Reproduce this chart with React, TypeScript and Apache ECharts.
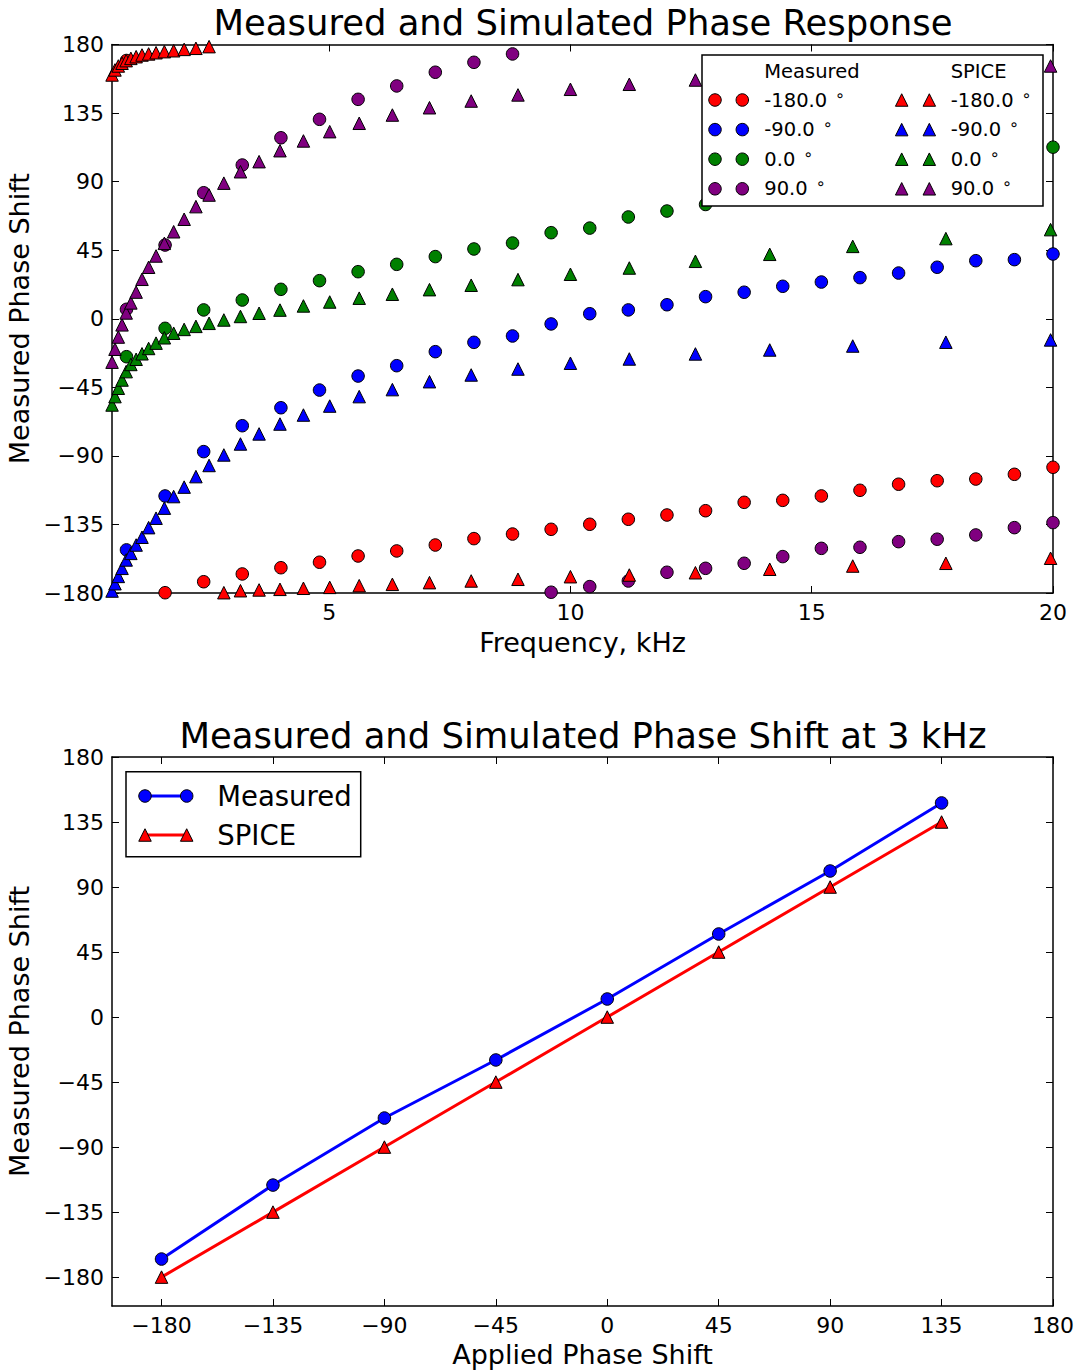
import React, { useEffect, useRef } from 'react';
import * as echarts from 'echarts';

// ---- Phase response vs frequency ----
const measuredFreqKHz = [0.8, 1.6, 2.4, 3.2, 4.0, 4.8, 5.6, 6.4, 7.2, 8.0, 8.8, 9.6, 10.4, 11.2, 12.0, 12.8, 13.6, 14.4, 15.2, 16.0, 16.8, 17.6, 18.4, 19.2, 20.0];

const measuredM180 = [169.5, -179.8, -172.6, -167.5, -163.4, -159.8, -155.7, -152.4, -148.5, -144.3, -141.3, -138.2, -134.9, -131.6, -128.8, -126, -120.5, -119.2, -116.3, -112.6, -108.6, -106.3, -105.2, -102.1, -97.5];
const measuredM90 = [-151.7, -116.3, -87.2, -70.2, -58.4, -46.8, -37.6, -30.8, -21.6, -15.5, -11.3, -3.4, 3.3, 5.8, 9.2, 14.5, 17.4, 21.3, 24.1, 27, 30, 33.8, 38.1, 38.8, 42.5];
const measured0 = [-24.9, -6.3, 5.8, 12.3, 19.3, 25, 30.9, 35.7, 40.8, 45.8, 49.7, 56.5, 59.5, 66.8, 70.7, 75, 79, 83.5, 88, 92, 96, 100, 104, 108, 112.6];
const measured90 = [6.2, 48.4, 82.7, 100.9, 118.8, 130.9, 144, 152.8, 161.8, 168.3, 173.8, -179.5, -175.8, -172.1, -166.4, -163.8, -160.5, -156.1, -150.7, -150, -146.3, -144.7, -141.9, -137.1, -133.8];

const spiceFreqKHz = [0.501, 0.562, 0.631, 0.708, 0.794, 0.891, 1.0, 1.122, 1.259, 1.413, 1.585, 1.778, 1.995, 2.239, 2.512, 2.818, 3.162, 3.548, 3.981, 4.467, 5.012, 5.623, 6.31, 7.079, 7.943, 8.913, 10.0, 11.22, 12.59, 14.13, 15.85, 17.78, 19.95];

const spiceM180 = [160, 163.3, 165.9, 167.7, 169.4, 170.9, 172, 173.1, 173.8, 174.6, 175.3, 175.9, 176.8, 177.5, 178.6, -179.8, -178.5, -178, -177.6, -176.9, -176.3, -175.2, -174.3, -173.2, -172.1, -171, -169.3, -168.2, -166.7, -164.4, -162.3, -160.5, -157.2];
const spiceM90 = [-178.7, -173.9, -169.1, -163.8, -158.3, -154, -148.5, -143.4, -137.1, -130.9, -124.3, -116.7, -110.5, -103.6, -96.3, -89.4, -82.2, -75.6, -69.1, -63.2, -57.3, -51.1, -46.5, -41.3, -36.9, -33, -29.2, -26.4, -23.1, -20.5, -17.9, -15.4, -13.9];
const spice0 = [-56.6, -51.1, -45.6, -40.2, -34.7, -30, -26.6, -23, -19.5, -16, -12.5, -9.5, -7, -5, -3, -0.8, 1.5, 3.6, 5.7, 8.4, 11, 13.5, 16.1, 19.1, 22, 25.7, 29.2, 33.3, 37.7, 42.3, 47.5, 52.6, 58.5];
const spice90 = [-28.5, -20, -12, -4, 3.8, 10.4, 17.5, 25.9, 33.8, 41.2, 49.5, 57.1, 65.3, 73.6, 81.2, 89, 96.5, 103.1, 110.3, 116.7, 122.8, 128.3, 133.7, 138.5, 142.9, 146.9, 150.6, 153.9, 156.7, 159.3, 161.7, 163.8, 165.9];

const appliedPhases = [-180, -90, 0, 90];
const phaseColors = ['#ff0000', '#0000ff', '#008000', '#800080'];
const measuredSets = [measuredM180, measuredM90, measured0, measured90];
const spiceSets = [spiceM180, spiceM90, spice0, spice90];

// ---- Phase shift at 3 kHz ----
const appliedShift = [-180, -135, -90, -45, 0, 45, 90, 135];
const measuredAt3k = [-167.5, -116.3, -69.9, -29.7, 12.5, 57.5, 101.1, 148.2];
const spiceAt3k = [-180, -135, -90, -45, 0, 45, 90, 135];

// tick positions
const freqTicks = [5, 10, 15, 20];
const phaseTicks = [-180, -135, -90, -45, 0, 45, 90, 135, 180];

const FONT = 'DejaVu Sans';
const MARK = 12.5;

const fmt = (v: number) => String(v).replace('-', '\u2212');

let measureCtx: CanvasRenderingContext2D | null = null;
function textWidth(text: string, font: string) {
  if (!measureCtx) measureCtx = document.createElement('canvas').getContext('2d');
  if (!measureCtx) return text.length * 10;
  measureCtx.font = font;
  return measureCtx.measureText(text).width;
}

function frameAxis(
  gridIndex: number,
  position: string,
  min: number,
  max: number,
  ticks: number[],
  labels: boolean,
  name = '',
  nameGap = 0
) {
  return {
    type: 'value',
    gridIndex,
    position,
    min,
    max,
    name,
    nameLocation: 'middle',
    nameGap,
    nameTextStyle: { fontFamily: FONT, fontSize: 27, color: '#000' },
    splitLine: { show: false },
    axisLine: { show: true, onZero: false, lineStyle: { color: '#000', width: 1.5 } },
    axisTick: {
      show: true,
      inside: true,
      length: 7,
      customValues: ticks,
      lineStyle: { color: '#000', width: 1 },
    },
    axisLabel: {
      show: labels,
      customValues: ticks,
      formatter: fmt,
      fontFamily: FONT,
      fontSize: 22,
      color: '#000',
      margin: 8,
    },
  };
}

function trianglePts(x: number, y: number, s: number) {
  const h = s / 2;
  return [
    [x, y - h],
    [x - h, y + h],
    [x + h, y + h],
  ];
}

function buildGraphics() {
  const els: any[] = [];
  const Z = 100;
  const tf = `35.4px "${FONT}"`;
  // titles
  els.push({
    type: 'text',
    x: 583,
    y: 22,
    z: Z,
    style: { text: 'Measured and Simulated Phase Response', font: tf, fill: '#000', align: 'center', verticalAlign: 'middle' },
  });
  els.push({
    type: 'text',
    x: 583,
    y: 735,
    z: Z,
    style: { text: 'Measured and Simulated Phase Shift at 3 kHz', font: tf, fill: '#000', align: 'center', verticalAlign: 'middle' },
  });

  // legend of the frequency plot
  els.push({
    type: 'rect',
    z: Z,
    shape: { x: 702, y: 55, width: 341, height: 151 },
    style: { fill: '#fff', stroke: '#000', lineWidth: 1.5 },
  });
  const lf = `19.5px "${FONT}"`;
  els.push({ type: 'text', z: Z + 1, x: 764.3, y: 71.7, style: { text: 'Measured', font: lf, fill: '#000', verticalAlign: 'middle' } });
  els.push({ type: 'text', z: Z + 1, x: 950.7, y: 71.7, style: { text: 'SPICE', font: lf, fill: '#000', verticalAlign: 'middle' } });
  appliedPhases.forEach((p, i) => {
    const y = 100 + i * 29.6;
    const c = phaseColors[i];
    const label = p.toFixed(1);
    [715, 742.3].forEach((cx) =>
      els.push({ type: 'circle', z: Z + 1, shape: { cx, cy: y, r: MARK / 2 }, style: { fill: c, stroke: '#000', lineWidth: 1 } })
    );
    [901.7, 929.3].forEach((cx) =>
      els.push({ type: 'polygon', z: Z + 1, shape: { points: trianglePts(cx, y, MARK) }, style: { fill: c, stroke: '#000', lineWidth: 1 } })
    );
    const w = textWidth(label + ' ', lf);
    [764.3, 950.7].forEach((x) => {
      els.push({
        type: 'text',
        z: Z + 1,
        x,
        y,
        style: { text: label, font: lf, fill: '#000', verticalAlign: 'middle' },
      });
      // superscript degree ring
      els.push({
        type: 'text',
        z: Z + 1,
        x: x + w + 1.5,
        y: y - 5,
        style: { text: '\u2218', font: `16px "${FONT}"`, fill: '#000', verticalAlign: 'middle' },
      });
    });
  });

  // legend of the 3 kHz plot
  els.push({
    type: 'rect',
    z: Z,
    shape: { x: 126, y: 771.7, width: 234.7, height: 85 },
    style: { fill: '#fff', stroke: '#000', lineWidth: 1.5 },
  });
  const bf = `27.5px "${FONT}"`;
  [
    { y: 796, color: '#0000ff', label: 'Measured', tri: false },
    { y: 835, color: '#ff0000', label: 'SPICE', tri: true },
  ].forEach((r) => {
    els.push({ type: 'line', z: Z + 1, shape: { x1: 145, y1: r.y, x2: 186.7, y2: r.y }, style: { stroke: r.color, lineWidth: 3 } });
    [145, 186.7].forEach((cx) =>
      els.push(
        r.tri
          ? { type: 'polygon', z: Z + 2, shape: { points: trianglePts(cx, r.y, MARK) }, style: { fill: r.color, stroke: '#000', lineWidth: 1 } }
          : { type: 'circle', z: Z + 2, shape: { cx, cy: r.y, r: MARK / 2 }, style: { fill: r.color, stroke: '#000', lineWidth: 1 } }
      )
    );
    els.push({ type: 'text', z: Z + 1, x: 217.3, y: r.y, style: { text: r.label, font: bf, fill: '#000', verticalAlign: 'middle' } });
  });
  return els;
}

function buildOption() {
  const series: any[] = [];
  appliedPhases.forEach((p, i) => {
    series.push({
      name: `Measured ${p.toFixed(1)}°`,
      type: 'scatter',
      xAxisIndex: 0,
      yAxisIndex: 0,
      symbol: 'circle',
      symbolSize: MARK,
      clip: true,
      z: 2,
      itemStyle: { color: phaseColors[i], borderColor: '#000', borderWidth: 1, opacity: 1 },
      data: measuredFreqKHz.map((f, k) => [f, measuredSets[i][k]]),
    });
  });
  appliedPhases.forEach((p, i) => {
    series.push({
      name: `SPICE ${p.toFixed(1)}°`,
      type: 'scatter',
      xAxisIndex: 0,
      yAxisIndex: 0,
      symbol: 'triangle',
      symbolSize: MARK,
      clip: true,
      z: 3,
      itemStyle: { color: phaseColors[i], borderColor: '#000', borderWidth: 1, opacity: 1 },
      data: spiceFreqKHz.map((f, k) => [f, spiceSets[i][k]]),
    });
  });
  series.push({
    name: 'Measured',
    type: 'line',
    xAxisIndex: 2,
    yAxisIndex: 2,
    symbol: 'circle',
    symbolSize: MARK,
    showAllSymbol: true,
    lineStyle: { color: '#0000ff', width: 3 },
    itemStyle: { color: '#0000ff', borderColor: '#000', borderWidth: 1 },
    data: appliedShift.map((a, k) => [a, measuredAt3k[k]]),
  });
  series.push({
    name: 'SPICE',
    type: 'line',
    xAxisIndex: 2,
    yAxisIndex: 2,
    symbol: 'triangle',
    symbolSize: MARK,
    showAllSymbol: true,
    lineStyle: { color: '#ff0000', width: 3 },
    itemStyle: { color: '#ff0000', borderColor: '#000', borderWidth: 1 },
    data: appliedShift.map((a, k) => [a, spiceAt3k[k]]),
  });

  return {
    animation: false,
    backgroundColor: '#fff',
    textStyle: { fontFamily: FONT },
    grid: [
      { left: 112, top: 44.5, width: 941, height: 548.5, outerBoundsMode: 'none', containLabel: false },
      { left: 112, top: 757, width: 941, height: 549, outerBoundsMode: 'none', containLabel: false },
    ],
    xAxis: [
      frameAxis(0, 'bottom', 0.5, 20, freqTicks, true, 'Frequency, kHz', 36),
      frameAxis(0, 'top', 0.5, 20, freqTicks, false),
      frameAxis(1, 'bottom', -200, 180, phaseTicks, true, 'Applied Phase Shift', 35),
      frameAxis(1, 'top', -200, 180, phaseTicks, false),
    ],
    yAxis: [
      frameAxis(0, 'left', -180, 180, phaseTicks, true, 'Measured Phase Shift', 72),
      frameAxis(0, 'right', -180, 180, phaseTicks, false),
      frameAxis(1, 'left', -200, 180, phaseTicks, true, 'Measured Phase Shift', 68),
      frameAxis(1, 'right', -200, 180, phaseTicks, false),
    ],
    series,
    graphic: buildGraphics(),
  };
}

export default function App() {
  const ref = useRef<HTMLDivElement>(null);
  useEffect(() => {
    document.body.style.margin = '0';
    const chart = echarts.init(ref.current!, null, { renderer: 'svg' });
    chart.setOption(buildOption() as any);
    return () => chart.dispose();
  }, []);
  return <div ref={ref} style={{ width: 1077, height: 1372 }} />;
}
